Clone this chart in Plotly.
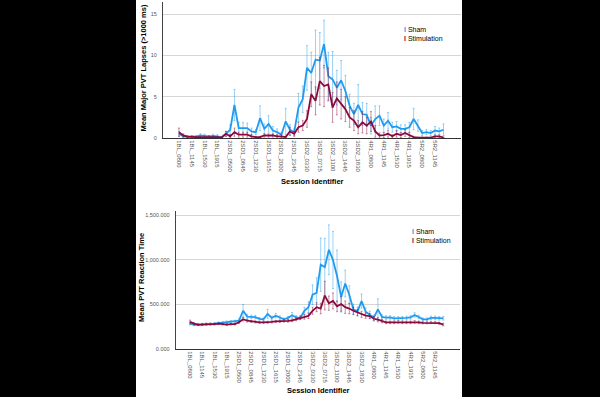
import plotly.graph_objects as go

# ---------------- data ----------------
sessions = (
    ["1BL_" + t for t in ["0800", "0915", "1030", "1145", "1300", "1415", "1530", "1645", "1800", "1915", "2030", "2145"]]
    + ["2SD1_" + t for t in ["0500", "0615", "0730", "0845", "1000", "1115", "1230", "1345", "1500", "1615", "1730", "1845", "2000", "2115", "2230", "2345"]]
    + ["3SD2_" + t for t in ["0100", "0215", "0330", "0445", "0600", "0715", "0830", "0945", "1100", "1215", "1330", "1445", "1600", "1715", "1830", "1945", "2100"]]
    + ["4R1_" + t for t in ["0800", "0915", "1030", "1145", "1300", "1415", "1530", "1645", "1800", "1915", "2030", "2145"]]
    + ["5R2_" + t for t in ["0800", "0915", "1030", "1145", "1300", "1415"]]
)
tick_sessions = sessions[::3]

lapses_sham = [0.5, 0.2, 0.15, 0.2, 0.15, 0.3, 0.25, 0.2, 0.25, 0.2, 0.1, 0.5,
               1.0, 4.0, 1.2, 1.2, 1.2, 0.8, 0.7, 2.4, 1.1, 1.7, 0.9, 0.7, 0.4, 2.0, 1.0, 0.7,
               3.7, 4.7, 8.5, 7.9, 9.5, 9.4, 11.4, 7.5, 7.1, 6.1, 7.0, 5.7, 3.9, 2.9, 4.0, 2.9, 2.8,
               1.5, 2.3, 2.7, 1.5, 2.1, 1.3, 1.4, 1.1, 1.1, 1.3, 2.3, 1.5,
               0.6, 0.7, 0.6, 0.9, 0.8, 1.0]
lapses_sham_err = [0.3, 0.1, 0.1, 0.1, 0.1, 0.2, 0.2, 0.1, 0.2, 0.2, 0.1, 0.3,
                   0.6, 1.9, 0.7, 0.7, 0.6, 0.4, 0.3, 1.5, 0.6, 1.0, 0.5, 0.4, 0.3, 1.6, 0.6, 0.4,
                   1.7, 1.6, 2.7, 2.5, 3.6, 3.4, 2.9, 2.9, 3.4, 2.1, 2.4, 1.9, 1.4, 1.3, 2.5, 1.4, 1.4,
                   1.0, 1.6, 1.2, 0.8, 1.0, 0.6, 0.6, 0.5, 0.5, 0.6, 1.3, 0.7,
                   0.3, 0.3, 0.3, 0.5, 0.4, 0.7]
lapses_stim = [0.7, 0.3, 0.15, 0.1, 0.1, 0.1, 0.1, 0.15, 0.1, 0.1, 0.05, 0.5,
               0.2, 0.7, 0.4, 0.4, 0.4, 0.2, 0.1, 0.1, 0.3, 0.3, 0.3, 0.2, 0.2, 0.1, 0.8, 0.5,
               1.3, 1.5, 2.3, 5.3, 4.5, 6.9, 6.3, 6.5, 3.7, 4.8, 4.1, 3.5, 2.5, 2.1, 1.3, 1.9, 1.5,
               2.0, 0.8, 0.3, 0.35, 0.5, 0.2, 0.5, 0.35, 0.6, 0.35, 0.1, 0.05,
               0.05, 0.05, 0.05, 0.2, 0.2, 0.05]
lapses_stim_err = [0.5, 0.2, 0.1, 0.1, 0.1, 0.1, 0.1, 0.1, 0.1, 0.1, 0.05, 0.3,
                   0.2, 0.5, 0.3, 0.3, 0.3, 0.2, 0.1, 0.1, 0.2, 0.2, 0.2, 0.2, 0.2, 0.1, 0.5, 0.3,
                   0.6, 0.6, 1.0, 1.5, 1.7, 2.9, 2.5, 2.0, 1.8, 2.0, 1.8, 1.5, 1.2, 1.2, 0.8, 1.3, 1.0,
                   1.2, 0.7, 0.3, 0.3, 0.4, 0.2, 0.4, 0.3, 0.4, 0.3, 0.1, 0.05,
                   0.05, 0.05, 0.05, 0.15, 0.15, 0.05]

rt_sham = [285, 272, 272, 278, 280, 282, 285, 290, 292, 300, 305, 308,
           320, 430, 365, 362, 358, 340, 335, 395, 350, 375, 353, 334, 350, 380, 355, 350,
           428, 470, 610, 631, 947, 920, 1114, 1000, 820, 585, 735, 610, 445, 420, 539, 420, 385,
           353, 445, 360, 353, 355, 345, 345, 345, 350, 355, 383, 360,
           334, 334, 350, 350, 345, 345]
rt_sham_err = [15, 10, 10, 10, 12, 12, 12, 15, 15, 15, 15, 15,
               20, 70, 25, 20, 20, 15, 15, 50, 20, 25, 20, 15, 15, 30, 20, 20,
               40, 60, 110, 170, 300, 320, 280, 320, 290, 170, 150, 100, 60, 50, 80, 40, 40,
               30, 120, 25, 20, 20, 20, 20, 20, 20, 20, 25, 20,
               15, 15, 20, 20, 20, 20]
rt_stim = [305, 285, 275, 275, 280, 280, 280, 285, 280, 275, 280, 280,
           300, 335, 318, 310, 305, 300, 300, 300, 305, 310, 310, 315, 316, 323, 334, 353,
           360, 372, 430, 470, 455, 600, 515, 540, 480, 505, 470, 455, 430, 410, 390, 375, 370,
           340, 330, 315, 300, 300, 300, 305, 300, 300, 300, 305, 300,
           295, 295, 298, 298, 290, 275]
rt_stim_err = [20, 10, 10, 10, 10, 10, 10, 10, 10, 10, 10, 10,
               12, 20, 15, 12, 12, 12, 12, 12, 12, 12, 12, 12, 15, 15, 15, 20,
               25, 30, 40, 50, 60, 160, 80, 90, 60, 80, 70, 60, 40, 35, 35, 30, 30,
               25, 25, 20, 15, 15, 15, 15, 15, 15, 15, 15, 15,
               12, 12, 12, 12, 12, 15]

# ---------------- styling ----------------
BLUE = "#1f9cf0"
RED = "#8b0a3c"
BLUE_ERR = "rgba(31,156,240,0.45)"
RED_ERR = "rgba(139,10,60,0.45)"
W, H = 600, 400


def px(x):
    return x / W


def py(y):
    return 1 - y / H


fig = go.Figure()

for (ys, es, col, ecol, xa, ya) in [
    (lapses_sham, lapses_sham_err, BLUE, BLUE_ERR, "x", "y"),
    (lapses_stim, lapses_stim_err, RED, RED_ERR, "x", "y"),
    (rt_sham, rt_sham_err, BLUE, BLUE_ERR, "x2", "y2"),
    (rt_stim, rt_stim_err, RED, RED_ERR, "x2", "y2"),
]:
    fig.add_trace(go.Scatter(
        x=sessions, y=ys, mode="lines", xaxis=xa, yaxis=ya,
        line=dict(color=col, width=1.8),
        error_y=dict(type="data", array=es, visible=True, color=ecol, thickness=1, width=1),
        showlegend=False, hoverinfo="skip",
    ))

xtick_font = dict(family="Liberation Sans, Arial", size=6, color="#555")
ytick_font = dict(family="Liberation Sans, Arial", size=5.5, color="#555")
xcommon = dict(type="category", categoryorder="array", categoryarray=sessions,
               tickmode="array", tickvals=tick_sessions, ticktext=tick_sessions,
               tickangle=90, tickfont=xtick_font, showgrid=False, showline=True,
               linecolor="#333", linewidth=1, ticks="", zeroline=False)
ycommon = dict(showgrid=True, gridcolor="#d6d6d6", gridwidth=1, showline=True,
               linecolor="#444", linewidth=1, ticks="", zeroline=False,
               tickfont=ytick_font, ticklabelstandoff=4)

fig.update_layout(
    width=W, height=H, autosize=False,
    margin=dict(l=0, r=0, t=0, b=0),
    paper_bgcolor="white", plot_bgcolor="white",
    xaxis=dict(domain=[px(163), px(461)], range=[-3.75, 66.1], anchor="y", **xcommon),
    yaxis=dict(domain=[py(139), py(2)], range=[0, 16.5], tickvals=[0, 5, 10, 15],
               anchor="x", **ycommon),
    xaxis2=dict(domain=[px(175.7), px(460)], range=[-3.5, 66.1], anchor="y2", **xcommon),
    yaxis2=dict(domain=[py(351.7), py(213)], range=[0, 1545], tickvals=[0, 500, 1000, 1500],
                tickformat=",.3f", anchor="x2", **ycommon),
)

title_font = dict(family="Liberation Sans, Arial", size=7.5, color="#000")
ann = []
# axis titles
ann.append(dict(x=px(143), y=py(69), text="<b>Mean Major PVT Lapses (>1000 ms)</b>", textangle=-90,
                xanchor="center", yanchor="middle",
                font=title_font, showarrow=False, xref="paper", yref="paper"))
ann.append(dict(x=px(142), y=py(280), text="<b>Mean PVT Reaction Time</b>", textangle=-90,
                xanchor="center", yanchor="middle",
                font=title_font, showarrow=False, xref="paper", yref="paper"))
ann.append(dict(x=px(312), y=py(183), text="<b>Session Identifier</b>",
                xanchor="center", yanchor="middle",
                font=title_font, showarrow=False, xref="paper", yref="paper"))
ann.append(dict(x=px(318), y=py(393), text="<b>Session Identifier</b>",
                xanchor="center", yanchor="middle",
                font=title_font, showarrow=False, xref="paper", yref="paper"))
# legends
leg_font = dict(family="Liberation Sans, Arial", size=7, color="#000")
for (lx, ly1, ly2) in [(404, 30, 39), (412, 233, 242)]:
    for (yy, name, col) in [(ly1, "Sham", BLUE), (ly2, "Stimulation", RED)]:
        ann.append(dict(x=px(lx - 2), y=py(yy), xanchor="left", yanchor="middle",
                        text=f"<span style='color:{col}'><b>I</b></span> {name}",
                        font=leg_font, showarrow=False, xref="paper", yref="paper"))
fig.update_layout(annotations=ann)

# black side bands
fig.update_layout(shapes=[
    dict(type="rect", xref="paper", yref="paper", x0=0, x1=px(136), y0=0, y1=1,
         fillcolor="black", line=dict(width=0), layer="above"),
    dict(type="rect", xref="paper", yref="paper", x0=px(462), x1=1, y0=0, y1=1,
         fillcolor="black", line=dict(width=0), layer="above"),
])

fig.write_html("out.html")
